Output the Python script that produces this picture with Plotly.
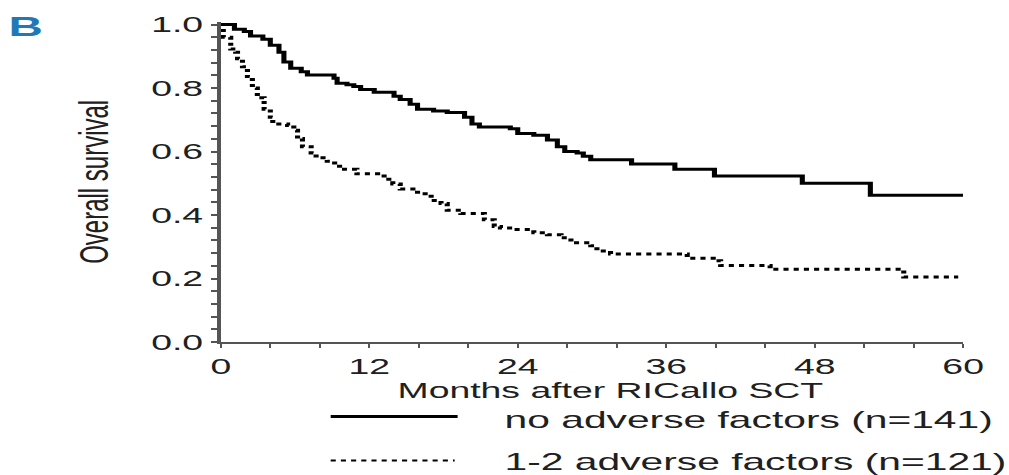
import plotly.graph_objects as go

# Kaplan-Meier overall survival, step points (months, survival probability)
months_no_adverse = [0, 1.1, 1.9, 2.4, 3.4, 4.0, 4.7, 5.1, 5.65, 6.5, 7.0, 9.15, 9.4, 10.2,
                     10.75, 11.3, 12.4, 14.0, 14.5, 15.3, 15.9, 17.2, 18.3, 19.7, 20.3, 20.9,
                     23.4, 24.0, 25.3, 26.4, 27.2, 27.8, 28.8, 29.3, 29.9, 33.2, 36.7, 39.9,
                     47.0, 52.5, 60.0]
surv_no_adverse = [1.0, 0.985, 0.978, 0.964, 0.954, 0.935, 0.913, 0.882, 0.862, 0.851, 0.841,
                   0.831, 0.815, 0.810, 0.805, 0.795, 0.787, 0.774, 0.764, 0.749, 0.733, 0.728,
                   0.723, 0.708, 0.687, 0.677, 0.672, 0.657, 0.651, 0.636, 0.615, 0.600, 0.595,
                   0.585, 0.574, 0.561, 0.544, 0.523, 0.500, 0.462, 0.462]

months_adverse = [0, 0.2, 0.8, 1.2, 1.35, 1.75, 2.15, 2.55, 2.95, 3.5, 4.0, 4.2, 5.4, 5.9, 6.2,
                  6.6, 7.3, 7.7, 8.6, 9.2, 10.0, 11.0, 13.2, 13.9, 14.5, 15.9, 17.0, 17.8, 18.3,
                  19.4, 21.3, 22.1, 22.6, 23.7, 25.3, 26.4, 27.5, 28.3, 29.9, 30.4, 31.5, 37.7,
                  39.8, 40.4, 44.4, 55.2, 59.6]
surv_adverse = [1.0, 0.960, 0.923, 0.913, 0.892, 0.867, 0.836, 0.800, 0.769, 0.733, 0.708, 0.687,
                0.682, 0.667, 0.641, 0.615, 0.595, 0.580, 0.569, 0.554, 0.544, 0.530, 0.513,
                0.498, 0.482, 0.467, 0.446, 0.436, 0.415, 0.405, 0.385, 0.364, 0.359, 0.354,
                0.344, 0.338, 0.328, 0.313, 0.303, 0.287, 0.277, 0.264, 0.256, 0.241, 0.229,
                0.205, 0.205]

group_labels = ["no adverse factors (n=141)", "1-2 adverse factors (n=121)"]
x_title = "Months after RICallo SCT"
y_title = "Overall survival"
panel_label = "B"

FONT = "Liberation Sans, Arial, Helvetica, sans-serif"
TEXT = "#202020"
AXIS = "#555555"

# the figure is laid out narrow and widened on the page
W, H = 594, 475
STRETCH = 1009 / W

fig = go.Figure()
fig.add_trace(go.Scatter(x=months_no_adverse, y=surv_no_adverse, mode="lines",
                         line=dict(shape="hv", color="black", width=3),
                         name=group_labels[0], showlegend=False, hoverinfo="skip"))
fig.add_trace(go.Scatter(x=months_adverse, y=surv_adverse, mode="lines",
                         line=dict(shape="hv", color="black", width=3, dash="dot"),
                         name=group_labels[1], showlegend=False, hoverinfo="skip"))

fig.update_xaxes(range=[0, 60], tick0=0, dtick=12, ticks="outside", ticklen=4, tickwidth=1.2,
                 tickcolor=AXIS, showline=True, linecolor=AXIS, linewidth=2,
                 showgrid=False, zeroline=False,
                 tickfont=dict(family=FONT, size=22, color=TEXT),
                 minor=dict(dtick=4, ticks="outside", ticklen=4, tickwidth=1.2, tickcolor=AXIS))
fig.update_yaxes(range=[0, 1.008], tick0=0, dtick=0.2, tickformat=".1f", ticks="outside",
                 ticklen=4, tickwidth=2, tickcolor=AXIS, showline=True, linecolor=AXIS,
                 linewidth=2, showgrid=False, zeroline=False, ticklabelstandoff=0,
                 tickfont=dict(family=FONT, size=22, color=TEXT),
                 minor=dict(dtick=0.04, ticks="outside", ticklen=4, tickwidth=2, tickcolor=AXIS))

annotations = [
    dict(text=x_title, x=0.5247, y=-0.150, xref="paper", yref="paper", xanchor="center",
         yanchor="middle", showarrow=False, borderpad=0,
         font=dict(family=FONT, size=22, color=TEXT)),
    dict(text=y_title, x=-0.172, y=0.5, xref="paper", yref="paper", xanchor="center",
         yanchor="middle", textangle=-90, showarrow=False,
         font=dict(family=FONT, size=24, color=TEXT)),
    dict(text=f"<b>{panel_label}</b>", x=-0.264, y=0.985, xref="paper", yref="paper",
         xanchor="center", yanchor="middle", showarrow=False,
         font=dict(family=FONT, size=28, color="#1f78b8")),
    dict(text=group_labels[0], x=0.3795, y=-0.2420, xref="paper", yref="paper", xanchor="left",
         yanchor="middle", showarrow=False, borderpad=0,
         font=dict(family=FONT, size=24, color=TEXT)),
    dict(text=group_labels[1], x=0.3795, y=-0.3733, xref="paper", yref="paper", xanchor="left",
         yanchor="middle", showarrow=False, borderpad=0,
         font=dict(family=FONT, size=24, color=TEXT)),
]

shapes = [
    dict(type="line", xref="paper", yref="paper", x0=0.148, x1=0.319, y0=-0.233, y1=-0.233,
         line=dict(color="black", width=3)),
    dict(type="line", xref="paper", yref="paper", x0=0.148, x1=0.315, y0=-0.370, y1=-0.370,
         line=dict(color="black", width=2, dash="dot")),
]

fig.update_layout(width=W, height=H, autosize=False,
                  margin=dict(l=129.5, r=27.1, t=14.1, b=133.3, pad=0),
                  paper_bgcolor="white", plot_bgcolor="white",
                  annotations=annotations, shapes=shapes)

widen = (
    "var gd = document.getElementById('{plot_id}');"
    "document.body.style.margin = '0';"
    "document.body.style.overflow = 'hidden';"
    "gd.style.transformOrigin = '0 0';"
    "gd.style.transform = 'scaleX(" + f"{STRETCH:.5f}" + ")';"
)

fig.write_html("out.html", post_script=widen)
